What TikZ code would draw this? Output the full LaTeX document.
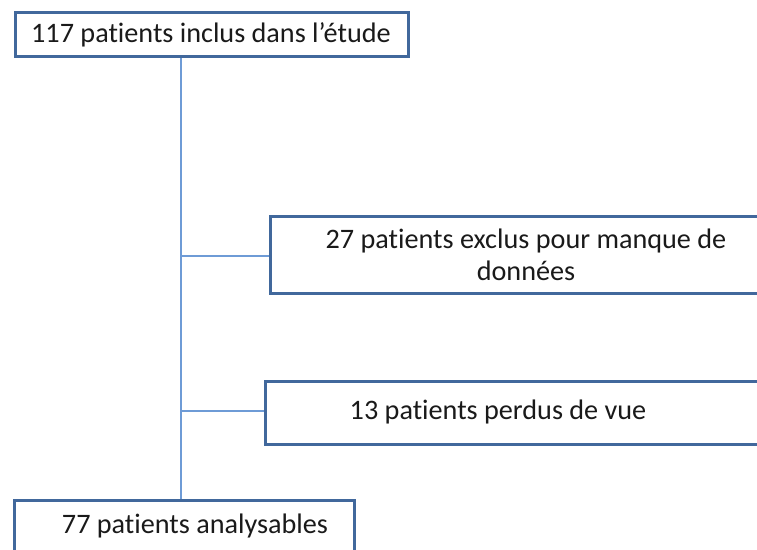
\documentclass[tikz,border=0pt]{standalone}
\usepackage{fontspec}
\setmainfont{Carlito}[RawFeature={-liga;-clig;-calt;-dlig}]
\definecolor{boxblue}{HTML}{41689C}
\definecolor{lineblue}{HTML}{6E9BD6}
\definecolor{txtgray}{HTML}{1A1A1A}
\begin{document}
\begin{tikzpicture}[x=1pt,y=-1pt,
  box/.style={draw=boxblue, line width=2.8pt, fill=white, inner sep=0pt, anchor=north west},
  txt/.style={text=txtgray, font=\fontsize{28.2}{32}\selectfont, inner sep=0pt, align=center},
  link/.style={draw=lineblue, line width=1.3pt}]
\useasboundingbox (0,0) rectangle (757,549);
\clip (0,0) rectangle (757,549);
% boxes
\node[box, minimum width=393pt, minimum height=44pt] (top) at (14,11) {};
\node[box, minimum width=520pt, minimum height=77pt] (excl) at (269,215) {};
\node[box, minimum width=520pt, minimum height=63pt] (lost) at (264,380) {};
\node[box, minimum width=340pt, minimum height=80pt] (final) at (13,499) {};
% texts
\node[txt] (ttop) at (211,35) {117 patients inclus dans l’étude};
\node[txt] (texcl) at (526,255) {27 patients exclus pour manque de\\données};
\node[txt] (tlost) at (498,412) {13 patients perdus de vue};
\node[txt] (tfinal) at (195,526) {77 patients analysables};
% connectors
\coordinate (j1) at (181,256);
\coordinate (j2) at (181,411);
\draw[link] (top.south -| j1) -- (final.north -| j1);
\draw[link] (j1) -- (j1 -| excl.west);
\draw[link] (j2) -- (j2 -| lost.west);
\end{tikzpicture}
\end{document}
